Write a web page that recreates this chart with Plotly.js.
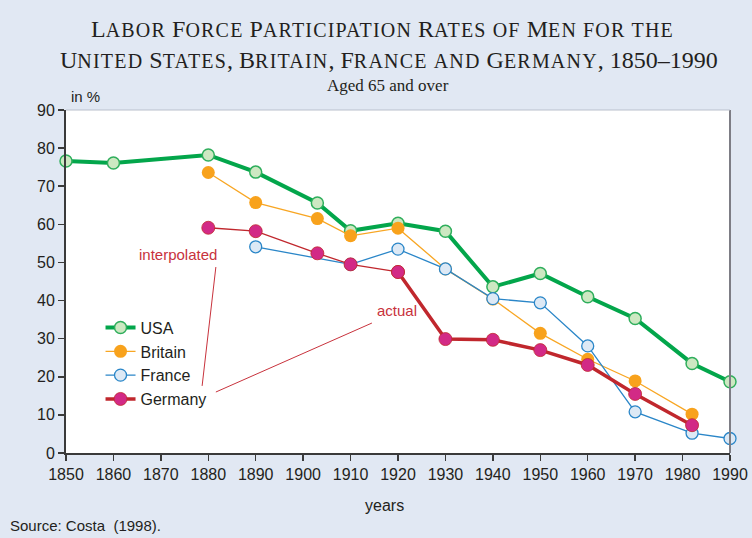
<!DOCTYPE html>
<html>
<head>
<meta charset="utf-8">
<script src="https://cdn.plot.ly/plotly-3.0.1.min.js"></script>
<style>
html,body{margin:0;padding:0;background:#e1e8f3;}
#chart{width:752px;height:538px;}
</style>
</head>
<body>
<div id="chart"></div>
<script>
// Data (percent of men aged 65+ in labour force)
const usaYears = [1850, 1860, 1880, 1890, 1903, 1910, 1920, 1930, 1940, 1950, 1960, 1970, 1982, 1990];
const usaRates = [76.6, 76.1, 78.2, 73.7, 65.6, 58.3, 60.3, 58.2, 43.6, 47.1, 41.0, 35.3, 23.5, 18.7];

const britainYears = [1880, 1890, 1903, 1910, 1920, 1930, 1940, 1950, 1960, 1970, 1982];
const britainRates = [73.6, 65.7, 61.5, 57.0, 59.0, 48.3, 40.4, 31.4, 24.6, 18.9, 10.2];

const franceYears = [1890, 1910, 1920, 1930, 1940, 1950, 1960, 1970, 1982, 1990];
const franceRates = [54.1, 49.5, 53.5, 48.3, 40.5, 39.4, 28.1, 10.8, 5.2, 3.8];

const germanyInterpYears = [1880, 1890, 1903, 1910, 1920];
const germanyInterpRates = [59.1, 58.2, 52.4, 49.5, 47.5];
const germanyActualYears = [1920, 1930, 1940, 1950, 1960, 1970, 1982];
const germanyActualRates = [47.5, 29.9, 29.7, 27.0, 23.1, 15.5, 7.3];

const xTicks = [1850, 1860, 1870, 1880, 1890, 1900, 1910, 1920, 1930, 1940, 1950, 1960, 1970, 1980, 1990];
const yTicks = [0, 10, 20, 30, 40, 50, 60, 70, 80, 90];

const titleLine1 = 'Labor Force Participation Rates of Men for the';
const titleLine2 = 'United States, Britain, France and Germany, 1850–1990';

const sans = 'Liberation Sans, Arial, sans-serif';
const serif = 'Liberation Serif, Times New Roman, serif';

// small-caps markup: lowercase runs become smaller, slightly spaced uppercase
function smallCaps(s, smallSize) {
  return s.replace(/[a-z]+/g, m => '<span style="font-size:' + smallSize + 'px;letter-spacing:1.2px">' + m.toUpperCase() + '</span>');
}

const traces = [
  {
    name: 'USA', x: usaYears, y: usaRates, mode: 'lines+markers', cliponaxis: false,
    line: {color: '#03a64b', width: 4},
    marker: {size: 12, color: '#cde8c2', line: {color: '#2fae5c', width: 1.5}}
  },
  {
    name: 'Britain', x: britainYears, y: britainRates, mode: 'lines+markers', cliponaxis: false,
    line: {color: '#f8a623', width: 1.3},
    marker: {size: 13, color: '#f8a21c', line: {color: '#f8a21c', width: 0}}
  },
  {
    name: 'France', x: franceYears, y: franceRates, mode: 'lines+markers', cliponaxis: false,
    line: {color: '#2a86c8', width: 1.3},
    marker: {size: 12, color: '#dde9f5', line: {color: '#2a86c8', width: 1.3}}
  },
  {
    name: 'Germany', x: germanyInterpYears, y: germanyInterpRates, mode: 'lines+markers', cliponaxis: false,
    showlegend: false,
    line: {color: '#c0272d', width: 1.3},
    marker: {size: 13, color: '#d22a86', line: {color: '#c0272d', width: 0.8}}
  },
  {
    name: 'Germany', x: germanyActualYears, y: germanyActualRates, mode: 'lines+markers', cliponaxis: false,
    line: {color: '#c0272d', width: 3.5},
    marker: {size: 13, color: '#d22a86', line: {color: '#c0272d', width: 0.8}}
  }
];

const layout = {
  width: 752, height: 538,
  paper_bgcolor: '#e1e8f3',
  plot_bgcolor: '#ffffff',
  margin: {l: 66, r: 22, t: 110, b: 85},
  showlegend: true,
  font: {family: sans, size: 16, color: '#231f20'},
  xaxis: {
    range: [1850, 1990], tickvals: xTicks, ticktext: xTicks.map(String),
    showgrid: false, zeroline: false,
    showline: true, linecolor: '#3a3a3a', linewidth: 2,
    ticks: 'outside', ticklen: 6, tickcolor: '#3a3a3a', tickwidth: 1.5,
    tickfont: {family: sans, size: 16, color: '#231f20'}
  },
  yaxis: {
    range: [0, 90], tickvals: yTicks, ticktext: yTicks.map(String),
    showgrid: false, zeroline: false,
    showline: true, linecolor: '#3a3a3a', linewidth: 2,
    ticks: 'outside', ticklen: 6, tickcolor: '#3a3a3a', tickwidth: 1.5,
    tickfont: {family: sans, size: 16, color: '#231f20'}
  },
  legend: {
    x: 0.052, y: 0.415, xanchor: 'left', yanchor: 'top',
    bgcolor: 'rgba(0,0,0,0)', borderwidth: 0,
    font: {family: sans, size: 16, color: '#231f20'},
    itemwidth: 30
  },
  shapes: [
    {type: 'line', xref: 'paper', yref: 'paper', x0: 1, x1: 1, y0: 0, y1: 1,
     line: {color: '#7d7d85', width: 2}},
    {type: 'line', xref: 'paper', yref: 'paper', x0: 0, x1: 1, y0: 1, y1: 1,
     line: {color: '#b9c0cc', width: 1}},
    {type: 'line', xref: 'x', yref: 'y', x0: 1881.6, y0: 48.8, x1: 1878.7, y1: 17.6,
     line: {color: '#c8323c', width: 1}},
    {type: 'line', xref: 'x', yref: 'y', x0: 1914.5, y0: 34.1, x1: 1881.6, y1: 16.0,
     line: {color: '#c8323c', width: 1}}
  ],
  annotations: [
    {text: smallCaps(titleLine1, 20), xref: 'paper', yref: 'paper', x: 0.477, y: 1.235,
     xanchor: 'center', yanchor: 'middle', showarrow: false,
     font: {family: serif, size: 24, color: '#231f20'}},
    {text: smallCaps(titleLine2, 20), xref: 'paper', yref: 'paper', x: 0.486, y: 1.147,
     xanchor: 'center', yanchor: 'middle', showarrow: false,
     font: {family: serif, size: 24, color: '#231f20'}},
    {text: 'Aged 65 and over', xref: 'paper', yref: 'paper', x: 0.485, y: 1.07,
     xanchor: 'center', yanchor: 'middle', showarrow: false,
     font: {family: serif, size: 17, color: '#231f20'}},
    {text: 'in %', xref: 'paper', yref: 'paper', x: 0.005, y: 1.038,
     xanchor: 'left', yanchor: 'middle', showarrow: false,
     font: {family: sans, size: 15, color: '#231f20'}},
    {text: 'years', xref: 'paper', yref: 'paper', x: 0.48, y: -0.152,
     xanchor: 'center', yanchor: 'middle', showarrow: false,
     font: {family: sans, size: 16, color: '#231f20'}},
    {text: 'interpolated', xref: 'x', yref: 'y', x: 1873.6, y: 52.0,
     xanchor: 'center', yanchor: 'middle', showarrow: false,
     font: {family: sans, size: 15, color: '#c8323c'}},
    {text: 'actual', xref: 'x', yref: 'y', x: 1919.8, y: 37.3,
     xanchor: 'center', yanchor: 'middle', showarrow: false,
     font: {family: sans, size: 15, color: '#c8323c'}},
    {text: 'Source: Costa  (1998).', xref: 'paper', yref: 'paper', x: -0.0873, y: -0.21,
     xanchor: 'left', yanchor: 'middle', showarrow: false,
     font: {family: sans, size: 15, color: '#231f20'}}
  ]
};

Plotly.newPlot('chart', traces, layout, {displayModeBar: false, staticPlot: true});
</script>
</body>
</html>
